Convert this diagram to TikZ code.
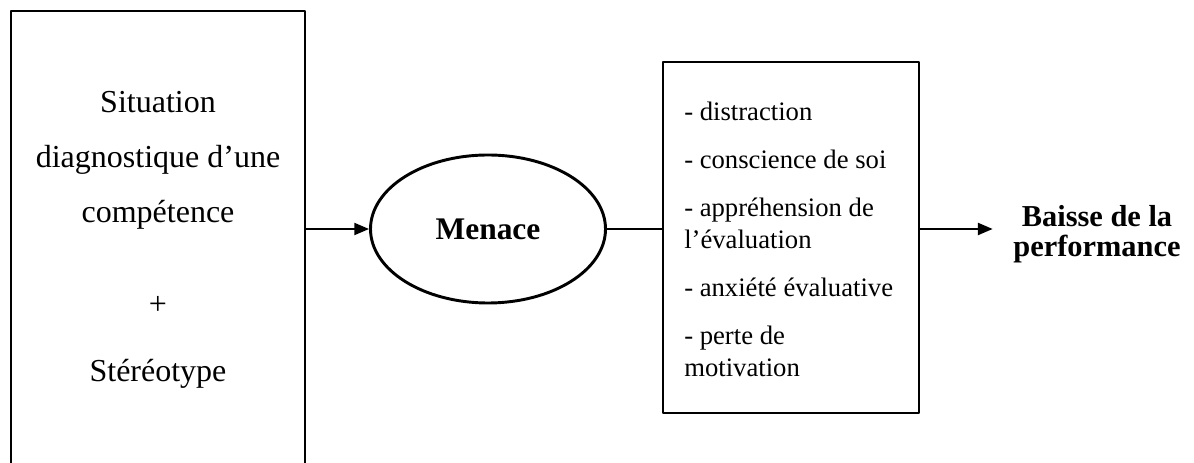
\documentclass[tikz,border=0pt]{standalone}
\usepackage{fontspec}
\setmainfont{Liberation Serif}
\usetikzlibrary{arrows.meta,shapes.geometric}
\begin{document}
\begin{tikzpicture}[x=0.75pt,y=0.75pt,line join=round,
	>={Triangle[length=11pt,width=9pt]},
	boite/.style={draw,line width=1pt,inner sep=0pt},
	fleche/.style={line width=1.4pt}]
	\useasboundingbox (0,0) rectangle (1194,463);
	\clip (0,0) rectangle (1194,463);
	% cadre de gauche (coupe en bas)
	\node[boite,minimum width=220.5pt,minimum height=354pt] (situation) at (158,216) {};
	\node[anchor=north,align=center,inner sep=0pt,font=\fontsize{24}{41.25}\selectfont] (situationtxt) at (158,372)
		{Situation\\diagnostique d’une\\compétence\\[27.75pt]+\\[9pt]Stéréotype};
	\node[draw,ellipse,line width=2.2pt,inner sep=0pt,minimum width=176.25pt,minimum height=111pt,
		font=\fontsize{23.6}{28}\selectfont\bfseries] (menace) at (488,234) {Menace};
	\node[boite,minimum width=192pt,minimum height=263.25pt] (effets) at (791,225.5) {};
	\node[anchor=north west,align=left,inner sep=0pt,font=\fontsize{20}{24}\selectfont] (effetstxt) at (684,361)
		{- distraction\\[12pt]- conscience de soi\\[12pt]- appréhension de\\l’évaluation\\[12pt]- anxiété évaluative\\[12pt]- perte de\\motivation};
	\node[align=center,inner xsep=15.4pt,inner ysep=0pt,font=\fontsize{22.8}{22.5}\selectfont\bfseries] (baisse) at (1097,229)
		{Baisse de la\\performance};
	\draw[fleche,->] (situation.east |- menace.west) -- (menace.west);
	\draw[fleche] (menace.east) -- (menace.east -| effets.west);
	\draw[fleche,->] (effets.east |- menace.east) -- (baisse.west |- menace.east);
\end{tikzpicture}
\end{document}
